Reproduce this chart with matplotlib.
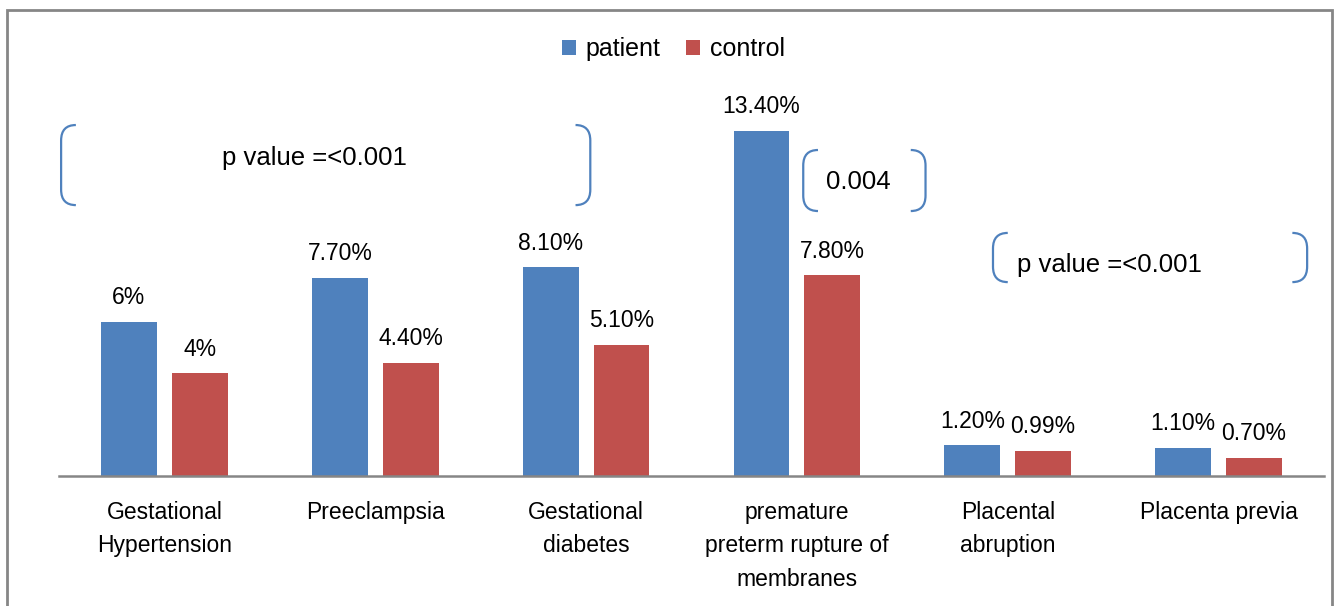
import matplotlib.pyplot as plt
from matplotlib.path import Path
from matplotlib.patches import PathPatch, Rectangle
import numpy as np

plt.rcParams['font.family'] = ['Liberation Sans', 'DejaVu Sans']

categories = ['Gestational\nHypertension', 'Preeclampsia', 'Gestational\ndiabetes',
              'premature\npreterm rupture of\nmembranes', 'Placental\nabruption',
              'Placenta previa']
patient = [6.0, 7.7, 8.1, 13.4, 1.2, 1.1]
control = [4.0, 4.4, 5.1, 7.8, 0.99, 0.7]
patient_labels = ['6%', '7.70%', '8.10%', '13.40%', '1.20%', '1.10%']
control_labels = ['4%', '4.40%', '5.10%', '7.80%', '0.99%', '0.70%']

# p-value brackets: (x left, x right, y top, y bottom, text, text x, text y, size)
brackets = [
    (-0.49, 2.02, 13.63, 10.52, 'p value =<0.001', 0.71, 12.35, 18.5),
    (3.03, 3.61, 12.66, 10.29, '0.004', 3.29, 11.42, 18.5),
    (3.93, 5.42, 9.44, 7.53, 'p value =<0.001', 4.48, 8.19, 18.5),
]

blue = '#4F81BD'
red = '#C0504D'
gray = '#868686'

fig = plt.figure(figsize=(13.36, 6.06), dpi=100)
ax = fig.add_axes([59 / 1336, 1 - 476 / 606, (1324 - 59) / 1336, (476 - 64) / 606])

x = np.arange(len(categories))
w = 0.265
off = 0.168
b1 = ax.bar(x - off, patient, w, color=blue, label='patient')
b2 = ax.bar(x + off, control, w, color=red, label='control')

for rect, lab in zip(b1, patient_labels):
    ax.annotate(lab, (rect.get_x() + rect.get_width() / 2, rect.get_height()),
                xytext=(0, 9), textcoords='offset points', ha='center', va='bottom',
                fontsize=16.5)
for rect, lab in zip(b2, control_labels):
    ax.annotate(lab, (rect.get_x() + rect.get_width() / 2, rect.get_height()),
                xytext=(0, 9), textcoords='offset points', ha='center', va='bottom',
                fontsize=16.5)

ax.set_xlim(-0.5, 5.5)
ax.set_ylim(0, 16)
ax.set_xticks(x)
ax.set_xticklabels(categories, fontsize=16.5, linespacing=1.58, va='top')
ax.tick_params(axis='x', length=0, pad=18)
ax.set_yticks([])
for s in ['left', 'right', 'top']:
    ax.spines[s].set_visible(False)
ax.spines['bottom'].set_color(gray)
ax.spines['bottom'].set_linewidth(1.8)


def bracket(x0, x1, ytop, ybot, dx=0.07, dy=0.6):
    # left bracket
    verts = [(x0 + dx, ytop), (x0, ytop), (x0, ytop - dy),
             (x0, ybot + dy), (x0, ybot), (x0 + dx, ybot)]
    codes = [Path.MOVETO, Path.CURVE3, Path.CURVE3,
             Path.LINETO, Path.CURVE3, Path.CURVE3]
    ax.add_patch(PathPatch(Path(verts, codes), fill=False, ec=blue, lw=1.6, clip_on=False))
    verts = [(x1 - dx, ytop), (x1, ytop), (x1, ytop - dy),
             (x1, ybot + dy), (x1, ybot), (x1 - dx, ybot)]
    ax.add_patch(PathPatch(Path(verts, codes), fill=False, ec=blue, lw=1.6, clip_on=False))


for xl, xr, yt, yb, txt, tx, ty, fs in brackets:
    bracket(xl, xr, yt, yb)
    ax.text(tx, ty, txt, ha='center', va='center', fontsize=fs)

fig.legend(loc='center', bbox_to_anchor=(0.504, 1 - 49 / 606), ncol=2, frameon=False,
           fontsize=18, handlelength=0.55, handleheight=0.55, handletextpad=0.4,
           columnspacing=1.0)

fig.patches.append(Rectangle((7 / 1336, -0.05), (1332 - 7) / 1336, 1 - 10 / 606 + 0.05,
                             transform=fig.transFigure, fill=False, ec=gray, lw=2))

fig.savefig('out.png', dpi=100)
